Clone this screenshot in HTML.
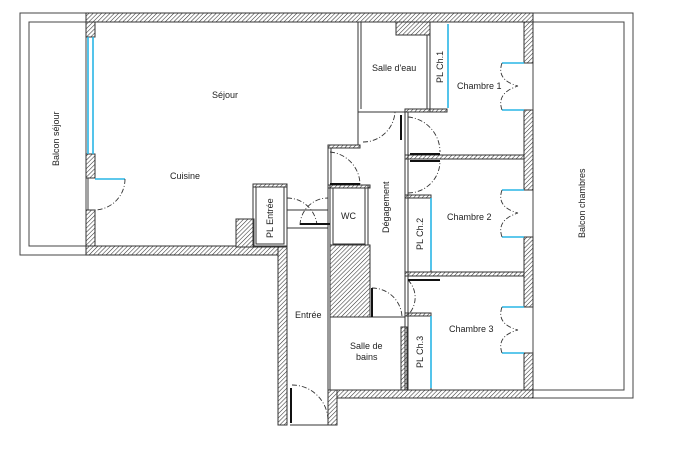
<!DOCTYPE html>
<html><head><meta charset="utf-8"><style>
body{margin:0;background:#fff}
svg{display:block}
text{font-family:"Liberation Sans",sans-serif;font-size:9px;fill:#222}
</style></head><body>
<svg width="700" height="474" viewBox="0 0 700 474" xmlns="http://www.w3.org/2000/svg">
<defs>
<pattern id="h" width="3" height="3" patternUnits="userSpaceOnUse" patternTransform="rotate(45)">
<rect width="3" height="3" fill="#fff"/><line x1="0" y1="0" x2="0" y2="3" stroke="#333" stroke-width="1.1"/>
</pattern>
</defs>
<g fill="none" stroke="#444" stroke-width="1">
<!-- balconies -->
<rect x="20" y="13" width="68" height="242"/>
<rect x="29" y="22" width="57" height="224"/>
<rect x="533" y="13" width="100" height="385"/>
<rect x="533" y="22" width="91" height="368"/>
</g>
<g fill="url(#h)" stroke="#333" stroke-width="1">
<!-- top wall -->
<rect x="86" y="13" width="447" height="9"/>
<!-- left wall -->
<rect x="86" y="22" width="9" height="15"/>
<rect x="86" y="154" width="9" height="24"/>
<rect x="86" y="210" width="9" height="37"/>
<!-- bottom wall -->
<rect x="86" y="246" width="201" height="9"/>
<rect x="236" y="219" width="18" height="28"/>
<!-- salle d'eau notch -->
<rect x="396" y="22" width="34" height="13"/>
<!-- right wall -->
<rect x="524" y="22" width="9" height="41"/>
<rect x="524" y="110" width="9" height="80"/>
<rect x="524" y="237" width="9" height="70"/>
<rect x="524" y="353" width="9" height="45"/>
<!-- bottom wall chambres -->
<rect x="328" y="390" width="205" height="8"/>
<!-- entree walls -->
<rect x="278" y="247" width="9" height="178"/>
<rect x="328" y="390" width="9" height="35"/>
<rect x="330" y="245" width="40" height="72"/>
<rect x="401" y="327" width="6" height="63"/>
<!-- thin hatched double walls -->
<rect x="253" y="184" width="34" height="3"/>
<rect x="328" y="185" width="42" height="3"/>
<rect x="328" y="145" width="32" height="3"/>
<rect x="405" y="109" width="42" height="3"/>
<rect x="405" y="155" width="119" height="4"/>
<rect x="405" y="272" width="119" height="4"/>
<rect x="405" y="195" width="26" height="3"/>
<rect x="405" y="313" width="26" height="3"/>
</g>
<g fill="none" stroke="#333" stroke-width="1">
<rect x="253" y="184" width="34" height="63"/>
<rect x="256" y="187" width="28" height="57"/>
<rect x="330" y="185" width="38" height="60"/>
<rect x="333" y="188" width="32" height="56"/>
<rect x="330" y="317" width="75" height="73"/>
<line x1="358" y1="22" x2="358" y2="112"/><line x1="361" y1="22" x2="361" y2="109"/>
<line x1="358" y1="112" x2="430" y2="112"/>
<line x1="430" y1="35" x2="430" y2="112"/><line x1="427" y1="35" x2="427" y2="109"/>
<line x1="405" y1="112" x2="405" y2="390"/><line x1="408" y1="112" x2="408" y2="390"/>
<line x1="328" y1="145" x2="328" y2="390"/><line x1="331" y1="148" x2="331" y2="185"/>
<line x1="358" y1="112" x2="358" y2="145"/>
<line x1="370" y1="245" x2="370" y2="317"/>
<rect x="405" y="195" width="26" height="77"/>
<rect x="405" y="313" width="26" height="77"/>
<line x1="287" y1="210" x2="328" y2="210"/>
<line x1="287" y1="228" x2="328" y2="228"/>
<line x1="290" y1="425" x2="328" y2="425"/>
</g>
<!-- windows -->
<g stroke="#29b6e6" stroke-width="1.6" fill="none">
<line x1="88" y1="37" x2="88" y2="154"/><line x1="93" y1="37" x2="93" y2="154"/>
<line x1="95" y1="179" x2="125" y2="179"/>
<line x1="448" y1="24" x2="448" y2="108"/>
<line x1="431" y1="198" x2="431" y2="270"/>
<line x1="431" y1="316" x2="431" y2="388"/>
<line x1="502" y1="63" x2="524" y2="63"/><line x1="502" y1="110" x2="524" y2="110"/>
<line x1="502" y1="190" x2="524" y2="190"/><line x1="502" y1="237" x2="524" y2="237"/>
<line x1="502" y1="307" x2="524" y2="307"/><line x1="502" y1="353" x2="524" y2="353"/>
</g>
<!-- door arcs -->
<g stroke="#333" stroke-width="0.9" fill="none" stroke-dasharray="5,2,1,2">
<path d="M125 179 A31 31 0 0 1 95 210"/>
<path d="M502 63 Q496 80 518 86 M502 110 Q496 93 518 86"/>
<path d="M502 190 Q496 207 518 213 M502 237 Q496 220 518 213"/>
<path d="M502 307 Q496 324 518 330 M502 353 Q496 336 518 330"/>
<path d="M363 142 A32 32 0 0 0 395 112"/>
<path d="M408 117 A35 35 0 0 1 440 152"/>
<path d="M408 193 A32 32 0 0 0 440 161"/>
<path d="M330 152 A33 33 0 0 1 360 185"/>
<path d="M287 198 A30 30 0 0 1 317 225 M300 225 A28 28 0 0 1 328 198"/>
<path d="M372 288 A30 30 0 0 1 402 318"/>
<path d="M408 280 A25 25 0 0 1 408 315"/>
<path d="M292 385 A36 36 0 0 1 328 421"/>
</g>
<g stroke="#111" stroke-width="2" fill="none">
<line x1="401" y1="115" x2="401" y2="140"/>
<line x1="410" y1="154" x2="440" y2="154"/>
<line x1="410" y1="161" x2="440" y2="161"/>
<line x1="330" y1="184" x2="360" y2="184"/>
<line x1="300" y1="224" x2="330" y2="224"/>
<line x1="372" y1="288" x2="372" y2="317"/>
<line x1="408" y1="280" x2="440" y2="280"/>
<line x1="291" y1="388" x2="291" y2="423"/>
</g>
<!-- labels -->
<text x="212" y="98">Séjour</text>
<text x="170" y="179">Cuisine</text>
<text x="372" y="71">Salle d'eau</text>
<text x="457" y="89">Chambre 1</text>
<text x="447" y="220">Chambre 2</text>
<text x="449" y="332">Chambre 3</text>
<text x="341" y="219">WC</text>
<text x="295" y="318">Entrée</text>
<text x="350" y="349">Salle de</text>
<text x="356" y="360">bains</text>
<text transform="translate(59,166) rotate(-90)">Balcon séjour</text>
<text transform="translate(585,238) rotate(-90)">Balcon chambres</text>
<text transform="translate(273,238) rotate(-90)">PL Entrée</text>
<text transform="translate(389,233) rotate(-90)">Dégagement</text>
<text transform="translate(443,83) rotate(-90)">PL Ch.1</text>
<text transform="translate(423,250) rotate(-90)">PL Ch.2</text>
<text transform="translate(423,368) rotate(-90)">PL Ch.3</text>
</svg>
</body></html>
